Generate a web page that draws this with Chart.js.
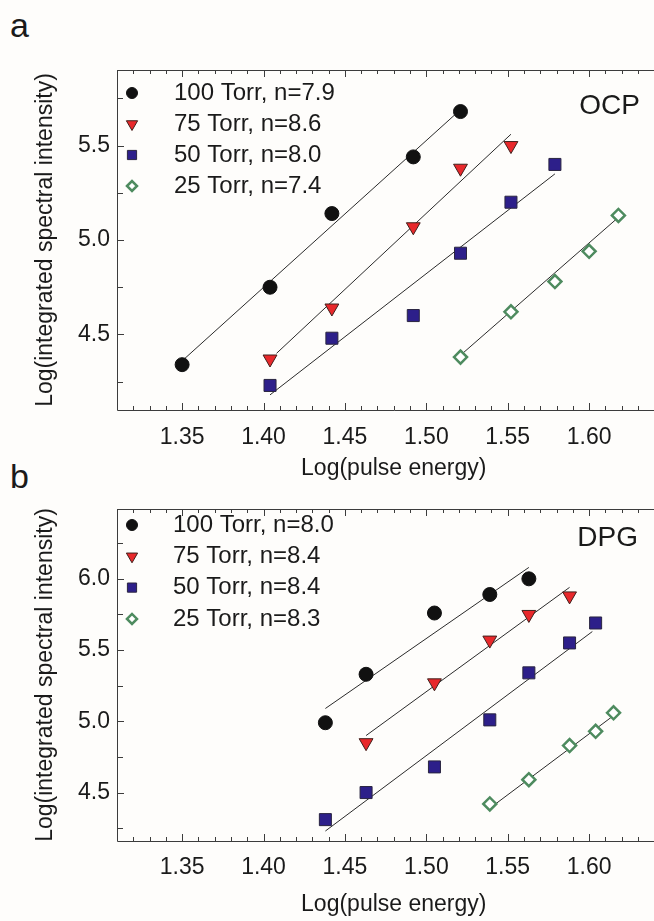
<!DOCTYPE html>
<html>
<head>
<meta charset="utf-8">
<script src="https://cdn.jsdelivr.net/npm/chart.js@4.4.1/dist/chart.umd.min.js"></script>
<style>
  html, body { margin: 0; padding: 0; background: #fefdfb; overflow: hidden; }
  body { width: 654px; height: 921px; position: relative; font-family: 'Liberation Sans', Arial, sans-serif; color: #1a1a1a; }
  canvas { position: absolute; left: 0; }
  #chartA { top: 0; }
  #chartB { top: 460px; }
  .panel { position: absolute; left: 10px; font-size: 34px; line-height: 1; }
</style>
</head>
<body>
<div class="panel" style="top:8px">a</div>
<div class="panel" style="top:459px">b</div>
<canvas id="chartA" width="680" height="500"></canvas>
<canvas id="chartB" width="680" height="461"></canvas>
<script>
// axes
const xTicks = [1.35, 1.40, 1.45, 1.50, 1.55, 1.60];
const yTicksA = [4.5, 5.0, 5.5];
const yTicksB = [4.5, 5.0, 5.5, 6.0];
const xMinorStep = 0.01;
const yMinorStep = 0.25;

// panel a - OCP
const labelsA = ['100 Torr, n=7.9', '75 Torr, n=8.6', '50 Torr, n=8.0', '25 Torr, n=7.4'];
const a100x = [1.350, 1.404, 1.442, 1.492, 1.521];
const a100y = [4.34, 4.75, 5.14, 5.44, 5.68];
const a75x = [1.404, 1.442, 1.492, 1.521, 1.552];
const a75y = [4.37, 4.64, 5.07, 5.38, 5.50];
const a50x = [1.404, 1.442, 1.492, 1.521, 1.552, 1.579];
const a50y = [4.23, 4.48, 4.60, 4.93, 5.20, 5.40];
const a25x = [1.521, 1.552, 1.579, 1.600, 1.618];
const a25y = [4.38, 4.62, 4.78, 4.94, 5.13];
// fitted lines (end points)
const fitA100x = [1.350, 1.521], fitA100y = [4.36, 5.69];
const fitA75x = [1.408, 1.552], fitA75y = [4.40, 5.56];
const fitA50x = [1.404, 1.579], fitA50y = [4.18, 5.35];
const fitA25x = [1.521, 1.618], fitA25y = [4.39, 5.12];

// panel b - DPG
const labelsB = ['100 Torr, n=8.0', '75 Torr, n=8.4', '50 Torr, n=8.4', '25 Torr, n=8.3'];
const b100x = [1.438, 1.463, 1.505, 1.539, 1.563];
const b100y = [4.99, 5.33, 5.76, 5.89, 6.00];
const b75x = [1.463, 1.505, 1.539, 1.563, 1.588];
const b75y = [4.85, 5.27, 5.57, 5.75, 5.88];
const b50x = [1.438, 1.463, 1.505, 1.539, 1.563, 1.588, 1.604];
const b50y = [4.31, 4.50, 4.68, 5.01, 5.34, 5.55, 5.69];
const b25x = [1.539, 1.563, 1.588, 1.604, 1.615];
const b25y = [4.42, 4.59, 4.83, 4.93, 5.06];
const fitB100x = [1.438, 1.563], fitB100y = [5.09, 6.08];
const fitB75x = [1.463, 1.588], fitB75y = [4.90, 5.94];
const fitB50x = [1.438, 1.602], fitB50y = [4.23, 5.63];
const fitB25x = [1.539, 1.615], fitB25y = [4.39, 5.04];

const FONT = "'Liberation Sans', Arial, sans-serif";
const TEXT = '#1a1a1a';
const AXIS = '#3c3c3c';

// marker look for 100, 75, 50, 25 Torr
const markers = [
  { style: 'circle', rot: 0, r: 7, lr: 5.5, fill: '#111111', stroke: '#111111', w: 1 },
  { style: 'triangle', rot: 180, r: 8, lr: 6.5, fill: '#e8282b', stroke: '#40201c', w: 1 },
  { style: 'rect', rot: 0, r: 8.5, lr: 6.5, fill: '#2d1f8a', stroke: '#2a2540', w: 1 },
  { style: 'rectRot', rot: 0, r: 6.5, lr: 5, fill: '#ffffff', stroke: '#4e8b5f', w: 2.5 }
];

function pts(xs, ys) {
  return xs.map((v, i) => ({ x: v, y: ys[i] }));
}

function buildDatasets(labels, series, fits) {
  const ds = [];
  series.forEach((s, i) => {
    const m = markers[i];
    ds.push({
      label: labels[i],
      data: pts(s[0], s[1]),
      showLine: false,
      pointStyle: m.style,
      pointRotation: m.rot,
      pointRadius: m.r,
      pointHoverRadius: m.r,
      pointBackgroundColor: m.fill,
      pointBorderColor: m.stroke,
      pointBorderWidth: m.w,
      order: 0
    });
  });
  fits.forEach(f => {
    ds.push({
      label: 'fit',
      data: pts(f[0], f[1]),
      showLine: true,
      borderColor: '#2a2a2a',
      borderWidth: 1,
      pointRadius: 0,
      order: 1
    });
  });
  return ds;
}

// inward ticks on all sides plus the frame
function frameTicks(yTicks) {
  return {
    id: 'frameTicks',
    afterDraw(chart) {
      const { ctx, chartArea: ca, scales: { x, y } } = chart;
      ctx.save();
      ctx.strokeStyle = AXIS;
      ctx.lineWidth = 1;
      ctx.beginPath();
      ctx.rect(Math.round(ca.left) + 0.5, Math.round(ca.top) + 0.5, ca.width, Math.round(ca.height));
      const nx = Math.round((x.max - x.min) / xMinorStep);
      for (let k = 0; k <= nx; k++) {
        const v = x.min + k * xMinorStep;
        const major = xTicks.some(t => Math.abs(t - v) < 1e-6);
        const len = major ? 7 : 4;
        const px = Math.round(x.getPixelForValue(v)) + 0.5;
        ctx.moveTo(px, ca.bottom); ctx.lineTo(px, ca.bottom - len);
        ctx.moveTo(px, ca.top); ctx.lineTo(px, ca.top + len);
      }
      let v = Math.ceil(y.min / yMinorStep) * yMinorStep;
      for (; v <= y.max + 1e-9; v += yMinorStep) {
        const major = yTicks.some(t => Math.abs(t - v) < 1e-6);
        const len = major ? 7 : 6;
        const py = Math.round(y.getPixelForValue(v)) + 0.5;
        ctx.moveTo(ca.left, py); ctx.lineTo(ca.left + len, py);
      }
      ctx.stroke();
      ctx.restore();
    }
  };
}

function insideLegend(labels, cfg) {
  return {
    id: 'insideLegend',
    afterDraw(chart) {
      const { ctx, chartArea: ca } = chart;
      ctx.save();
      ctx.textBaseline = 'middle';
      labels.forEach((txt, i) => {
        const m = markers[i];
        const yy = ca.top + cfg.top + i * cfg.gap;
        ctx.fillStyle = m.fill;
        ctx.strokeStyle = m.stroke;
        ctx.lineWidth = m.w;
        Chart.helpers.drawPoint(ctx, { pointStyle: m.style, rotation: m.rot, radius: m.lr, borderWidth: m.w }, ca.left + cfg.markerX, yy);
        ctx.fillStyle = TEXT;
        ctx.font = '24px ' + FONT;
        ctx.textAlign = 'left';
        ctx.fillText(txt, ca.left + cfg.textX, yy);
      });
      ctx.font = '28px ' + FONT;
      ctx.textAlign = 'right';
      ctx.fillText(cfg.tag, cfg.tagX, cfg.tagY);
      ctx.restore();
    }
  };
}

function makeChart(id, labels, series, fits, yMin, yMax, yTicks, lay, legendCfg) {
  return new Chart(document.getElementById(id), {
    type: 'scatter',
    data: { datasets: buildDatasets(labels, series, fits) },
    options: {
      responsive: false,
      animation: false,
      devicePixelRatio: 1,
      layout: { padding: { top: lay.top, right: 3, left: 0, bottom: 0 } },
      plugins: { legend: { display: false }, tooltip: { enabled: false } },
      scales: {
        x: {
          type: 'linear',
          min: 1.31,
          max: 1.65,
          afterBuildTicks: s => { s.ticks = xTicks.map(v => ({ value: v })); },
          afterFit: s => { s.height = lay.xHeight; },
          grid: { display: false, drawTicks: false },
          border: { display: false },
          ticks: {
            color: TEXT, padding: lay.tickPad, autoSkip: false, maxRotation: 0,
            font: { family: FONT, size: 23 },
            callback: v => Number(v).toFixed(2)
          },
          title: {
            display: true, text: 'Log(pulse energy)', color: TEXT,
            font: { family: FONT, size: 23 },
            padding: { top: 0, bottom: lay.titlePad }
          }
        },
        y: {
          type: 'linear',
          min: yMin,
          max: yMax,
          afterBuildTicks: s => { s.ticks = yTicks.map(v => ({ value: v })); },
          afterFit: s => { s.width = 117; },
          grid: { display: false, drawTicks: false },
          border: { display: false },
          ticks: {
            color: TEXT, padding: 7,
            font: { family: FONT, size: 23 },
            callback: v => Number(v).toFixed(1)
          },
          title: {
            display: true, text: 'Log(integrated spectral intensity)', color: TEXT,
            font: { family: FONT, size: 23 },
            padding: { top: 32, bottom: 0 }
          }
        }
      }
    },
    plugins: [frameTicks(yTicks), insideLegend(labels, legendCfg)]
  });
}

makeChart('chartA', labelsA,
  [[a100x, a100y], [a75x, a75y], [a50x, a50y], [a25x, a25y]],
  [[fitA100x, fitA100y], [fitA75x, fitA75y], [fitA50x, fitA50y], [fitA25x, fitA25y]],
  4.1, 5.9, yTicksA,
  { top: 70, xHeight: 90, titlePad: 18, tickPad: 14 },
  { top: 23, gap: 31, markerX: 15, textX: 57, tag: 'OCP', tagX: 640, tagY: 106 });

makeChart('chartB', labelsB,
  [[b100x, b100y], [b75x, b75y], [b50x, b50y], [b25x, b25y]],
  [[fitB100x, fitB100y], [fitB75x, fitB75y], [fitB50x, fitB50y], [fitB25x, fitB25y]],
  4.16, 6.49, yTicksB,
  { top: 49, xHeight: 80, titlePad: 3, tickPad: 13 },
  { top: 16, gap: 31.3, markerX: 15, textX: 56, tag: 'DPG', tagX: 638, tagY: 78 });
</script>
</body>
</html>
